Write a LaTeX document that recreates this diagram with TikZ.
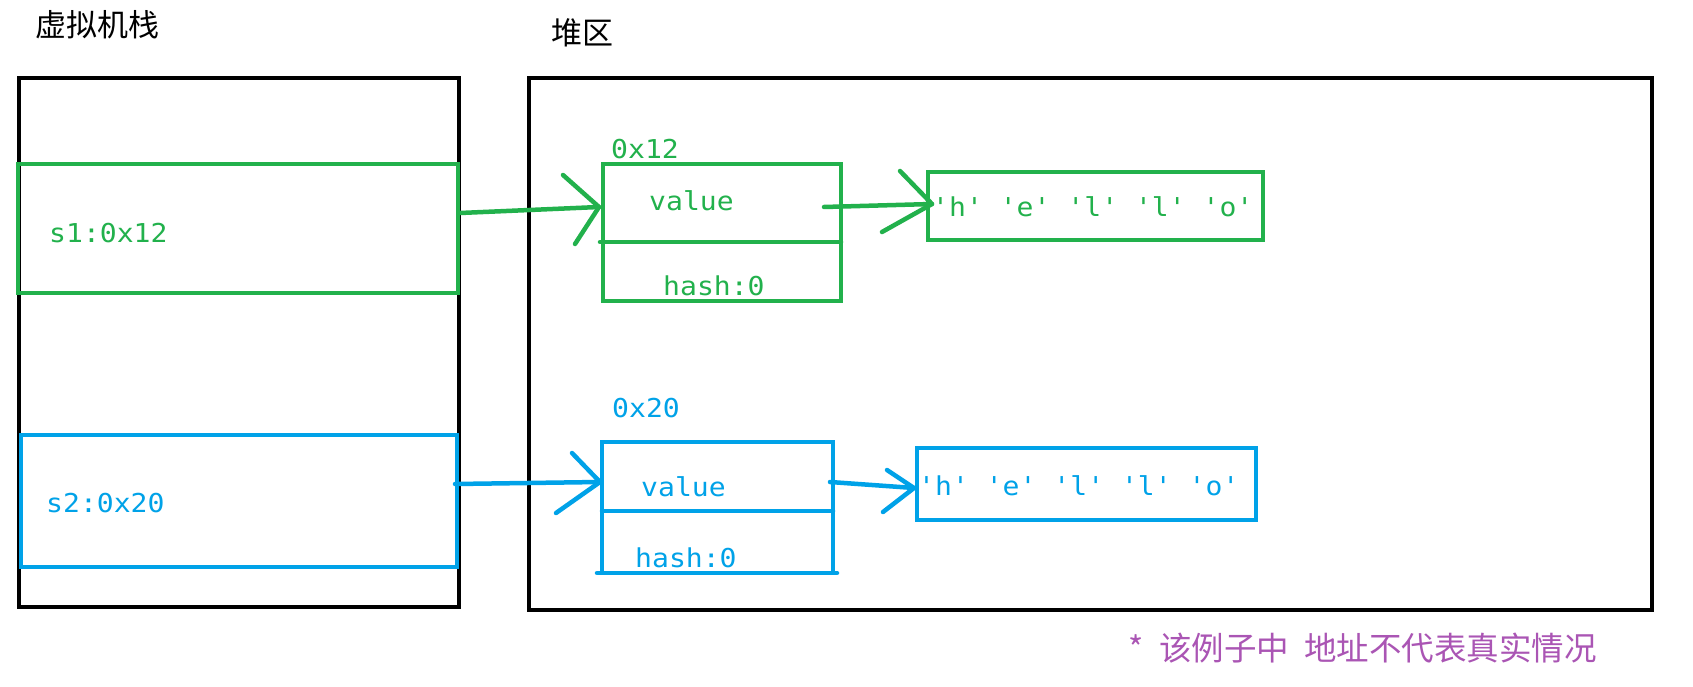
\documentclass[tikz,border=0pt]{standalone}
\usepackage{fontspec}
\newfontfamily\cjk{Noto Sans CJK SC}
\newfontfamily\code[FakeStretch=1.08]{DejaVu Sans Mono}
\definecolor{pgreen}{RGB}{34,177,76}
\definecolor{pblue}{RGB}{0,162,232}
\definecolor{ppurple}{RGB}{170,85,180}
\tikzset{
  box/.style={draw=#1, line width=4.5pt, rectangle, outer sep=0pt, inner sep=0pt, anchor=north west},
  conn/.style={draw=#1, line width=4.5pt, line cap=round, line join=round},
  codetext/.style={text=#1, inner sep=0pt, anchor=base west, font=\code\fontsize{26}{30}\selectfont},
  titletext/.style={inner sep=0pt, anchor=base west, font=\cjk\fontsize{31}{35}\selectfont},
  notetext/.style={inner sep=0pt, anchor=base west, text=ppurple, font=\cjk\fontsize{32.5}{37}\selectfont},
}
\begin{document}
\begin{tikzpicture}[x=1pt,y=-1pt]
\useasboundingbox (0,0) rectangle (1693,687);
\fill[white] (0,0) rectangle (1693,687);

% titles
\node[titletext] (t1) at (35,37) {虚拟机栈};
\node[titletext] (t2) at (551,45) {堆区};

% big boxes
\node[box=black, minimum width=440, minimum height=529] (stack) at (19,78) {};
\node[box=black, minimum width=1123, minimum height=532] (heap) at (529,78) {};

% stack entries
\node[box=pgreen, minimum width=440, minimum height=129] (s1) at (18,164) {};
\node[codetext=pgreen] (s1t) at (49,242) {s1:0x12};
\node[box=pblue, minimum width=436, minimum height=132] (s2) at (21,435) {};
\node[codetext=pblue] (s2t) at (46,512) {s2:0x20};

% green struct
\node[codetext=pgreen] (a1) at (611,159) {0x12};
\node[box=pgreen, minimum width=238, minimum height=137] (st1) at (603,164) {};
\coordinate (st1dl) at (600,242);
\coordinate (st1dr) at (841,242);
\draw[conn=pgreen] (st1dl) -- (st1dr);
\node[codetext=pgreen] (v1) at (649,211) {value};
\node[codetext=pgreen] (h1) at (663,295) {hash:0};
\node[box=pgreen, minimum width=335, minimum height=68] (hello1) at (928,172) {};
\node[codetext=pgreen] (hello1t) at (932,216) {'h' 'e' 'l' 'l' 'o'};

% blue struct
\node[codetext=pblue] (a2) at (612,417) {0x20};
\node[box=pblue, minimum width=231, minimum height=131] (st2) at (602,442) {};
\coordinate (st2dl) at (602,511);
\coordinate (st2dr) at (833,511);
\draw[conn=pblue] (st2dl) -- (st2dr);
\coordinate (st2bl) at (597,573);
\coordinate (st2br) at (837,573);
\draw[conn=pblue] (st2bl) -- (st2br);
\node[codetext=pblue] (v2) at (641,496) {value};
\node[codetext=pblue] (h2) at (635,567) {hash:0};
\node[box=pblue, minimum width=339, minimum height=72] (hello2) at (917,448) {};
\node[codetext=pblue] (hello2t) at (918,495) {'h' 'e' 'l' 'l' 'o'};

% green arrows
\coordinate (ga1s) at (460,213);
\coordinate (ga1t) at (599,207);
\coordinate (ga1u) at (563,175);
\coordinate (ga1l) at (575,244);
\draw[conn=pgreen] (ga1s) -- (ga1t);
\draw[conn=pgreen] (ga1u) -- (ga1t) -- (ga1l);

\coordinate (ga2s) at (824,207);
\coordinate (ga2t) at (932,204);
\coordinate (ga2u) at (900,171);
\coordinate (ga2l) at (882,232);
\draw[conn=pgreen] (ga2s) -- (ga2t);
\draw[conn=pgreen] (ga2u) -- (ga2t) -- (ga2l);

% blue arrows
\coordinate (ba1s) at (455,484);
\coordinate (ba1t) at (600,482);
\coordinate (ba1u) at (572,453);
\coordinate (ba1l) at (556,513);
\draw[conn=pblue] (ba1s) -- (ba1t);
\draw[conn=pblue] (ba1u) -- (ba1t) -- (ba1l);

\coordinate (ba2s) at (830,482);
\coordinate (ba2t) at (914,488);
\coordinate (ba2u) at (887,470);
\coordinate (ba2l) at (883,512);
\draw[conn=pblue] (ba2s) -- (ba2t);
\draw[conn=pblue] (ba2u) -- (ba2t) -- (ba2l);

% note
\node[notetext] (note) at (1128,660) {*\hspace{16pt}该例子中\hspace{15pt}地址不代表真实情况};
\end{tikzpicture}
\end{document}
